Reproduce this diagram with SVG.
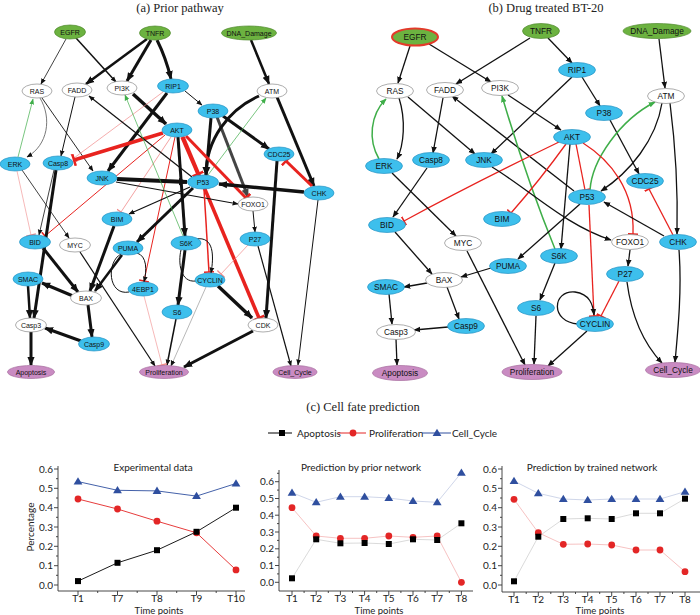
<svg xmlns="http://www.w3.org/2000/svg" width="700" height="615" viewBox="0 0 700 615">
<style>
.nb{fill:#3dbfec;stroke:#2794c4;stroke-width:0.7}
.ng{fill:#6cb240;stroke:#4f8a2c;stroke-width:0.7}
.np{fill:#c98bc2;stroke:#a66b9e;stroke-width:0.7}
.nw{fill:#fff;stroke:#8a8a8a;stroke-width:0.7}
.la{font-family:"Liberation Sans",Arial,sans-serif;font-size:7px;fill:#111;text-anchor:middle;dominant-baseline:central}
.lb{font-family:"Liberation Sans",Arial,sans-serif;font-size:8.3px;fill:#111;text-anchor:middle;dominant-baseline:central}
.ti{font-family:"Liberation Serif","Times New Roman",serif;font-size:12.5px;fill:#222;text-anchor:middle}
.k{stroke:#111;fill:none}
.r{stroke:#e8231f;fill:none}
.pk{stroke:#f08a8a;fill:none}
.g{stroke:#3fae49;fill:none}
.ct{font-family:Lato,"Liberation Sans",sans-serif;font-size:10px;fill:#222}
.tp{font-family:Lato,"Liberation Sans",sans-serif;font-size:9.5px;fill:#222}
.ax{stroke:#333;stroke-width:0.9;fill:none}
</style>
<defs>
<marker id="ah" viewBox="0 0 10 10" refX="9" refY="5" markerWidth="6" markerHeight="6" markerUnits="userSpaceOnUse" orient="auto"><path d="M0,1 L10,5 L0,9 z" fill="#111"/></marker>
<marker id="ahL" viewBox="0 0 10 10" refX="9" refY="5" markerWidth="9" markerHeight="9" markerUnits="userSpaceOnUse" orient="auto"><path d="M0,1 L10,5 L0,9 z" fill="#111"/></marker>
<marker id="ahD" viewBox="0 0 10 10" refX="9" refY="5" markerWidth="9" markerHeight="9" markerUnits="userSpaceOnUse" orient="auto"><path d="M0,1 L10,5 L0,9 z" fill="#444"/></marker>
<marker id="ahB" viewBox="0 0 10 10" refX="9" refY="5" markerWidth="7" markerHeight="7" markerUnits="userSpaceOnUse" orient="auto"><path d="M0,1 L10,5 L0,9 z" fill="#111"/></marker>
<marker id="ahG" viewBox="0 0 10 10" refX="9" refY="5" markerWidth="6" markerHeight="6" markerUnits="userSpaceOnUse" orient="auto"><path d="M0,1 L10,5 L0,9 z" fill="#3fae49"/></marker>
<marker id="ahGB" viewBox="0 0 10 10" refX="9" refY="5" markerWidth="7" markerHeight="7" markerUnits="userSpaceOnUse" orient="auto"><path d="M0,1 L10,5 L0,9 z" fill="#3fae49"/></marker>
<marker id="tee" viewBox="0 0 4 10" refX="2" refY="5" markerWidth="4" markerHeight="10" markerUnits="userSpaceOnUse" orient="auto"><path d="M2,0 V10" stroke="#e8231f" stroke-width="1.6"/></marker>
<marker id="teeP" viewBox="0 0 4 10" refX="2" refY="5" markerWidth="4" markerHeight="10" markerUnits="userSpaceOnUse" orient="auto"><path d="M2,0 V10" stroke="#f08a8a" stroke-width="1.4"/></marker>
<marker id="teeL" viewBox="0 0 4 12" refX="2" refY="6" markerWidth="4" markerHeight="12" markerUnits="userSpaceOnUse" orient="auto"><path d="M2,0 V12" stroke="#e8231f" stroke-width="2.5"/></marker>
<rect id="sq" x="-3" y="-3" width="6" height="6" fill="#000"/>
<circle id="ci" r="3.4" fill="#e32626"/>
<path id="tr" d="M0,-4.3 L4.4,3 L-4.4,3 z" fill="#2f4f9f"/>
</defs>

<text class="ti" x="180" y="12">(a) Prior pathway</text>
<text class="ti" x="546" y="12">(b) Drug treated BT-20</text>
<text class="ti" x="363" y="411">(c) Cell fate prediction</text>

<g id="edges-a">
<path class="k" stroke-width="0.8" d="M66,39 L41,84" marker-end="url(#ah)"/>
<path class="k" stroke-width="1.5" d="M76,38 L116,82" marker-end="url(#ah)"/>
<path class="k" stroke-width="2.5" d="M147,39 L86,84" marker-end="url(#ahL)"/>
<path class="k" stroke-width="3" d="M151,40 L127,81" marker-end="url(#ahL)"/>
<path class="k" stroke-width="3" d="M157,40 Q166,58 171,79" marker-end="url(#ahL)"/>
<path class="k" stroke-width="2.5" d="M251,40 L269,84" marker-end="url(#ahL)"/>
<path stroke="#555" fill="none" stroke-width="0.8" d="M40,98 C52,118 48,145 27,157" marker-end="url(#ah)"/>
<path class="g" stroke-width="0.7" d="M18,157 L33,99" marker-end="url(#ahG)"/>
<path class="k" stroke-width="0.9" d="M42,98 L93,171" marker-end="url(#ah)"/>
<path class="k" stroke-width="1" d="M75,97 L61,156" marker-end="url(#ah)"/>
<path class="k" stroke-width="3.5" d="M133,94 L166,124" marker-end="url(#ahL)"/>
<path class="k" stroke-width="3" d="M167,93 L108,171" marker-end="url(#ahL)"/>
<path class="k" stroke-width="1" d="M185,91 L202,105" marker-end="url(#ah)"/>
<path class="pk" stroke-width="0.7" d="M163,92 L74,158" marker-end="url(#teeP)"/>
<path class="k" stroke-width="3" d="M211,118 L206,175" marker-end="url(#ahL)"/>
<path stroke="#444" fill="none" stroke-width="3" d="M217,117 L248,197" marker-end="url(#ahD)"/>
<path class="k" stroke-width="3" d="M223,116 L269,149" marker-end="url(#ahL)"/>
<path class="k" stroke-width="3" d="M259,96 C228,110 206,140 206,175" marker-end="url(#ahL)"/>
<path class="k" stroke-width="3" d="M277,97 L314,186" marker-end="url(#ahL)"/>
<path class="g" stroke-width="0.7" d="M208,175 L266,98" marker-end="url(#ahG)"/>
<path class="r" stroke-width="3.5" d="M163,133 L74,160" marker-end="url(#teeL)"/>
<path class="k" stroke-width="3" d="M178,137 L185,236" marker-end="url(#ahL)"/>
<path class="r" stroke-width="3.5" d="M182,137 L198,174" marker-end="url(#teeL)"/>
<path class="r" stroke-width="3" d="M186,136 L246,198" marker-end="url(#teeL)"/>
<path class="r" stroke-width="3.5" d="M183,137 L259,318" marker-end="url(#teeL)"/>
<path class="r" stroke-width="1" d="M165,135 L45,236" marker-end="url(#tee)"/>
<path class="pk" stroke-width="0.8" d="M171,137 L121,212" marker-end="url(#teeP)"/>
<path class="r" stroke-width="1" d="M175,137 L144,281" marker-end="url(#tee)"/>
<path class="k" stroke-width="4" d="M117,179 L187,182" marker-end="url(#ahL)"/>
<path class="k" stroke-width="1.2" d="M116,182 L238,204" marker-end="url(#ah)"/>
<path class="k" stroke-width="1.2" d="M192,177 L89,96" marker-end="url(#ah)"/>
<path class="k" stroke-width="1.2" d="M190,187 L129,214" marker-end="url(#ah)"/>
<path class="k" stroke-width="3" d="M193,188 L137,242" marker-end="url(#ahL)"/>
<path class="r" stroke-width="1.5" d="M204,189 L209,272" marker-end="url(#tee)"/>
<path class="k" stroke-width="3.5" d="M304,192 L219,184" marker-end="url(#ahL)"/>
<path class="r" stroke-width="3" d="M312,186 L286,161" marker-end="url(#teeL)"/>
<path class="k" stroke-width="3" d="M277,161 L266,318" marker-end="url(#ahL)"/>
<path class="k" stroke-width="1" d="M253,211 L255,232" marker-end="url(#ah)"/>
<path class="pk" stroke-width="0.7" d="M248,245 L221,274" marker-end="url(#teeP)"/>
<path class="k" stroke-width="1.2" d="M258,246 L291,366" marker-end="url(#ah)"/>
<path class="k" stroke-width="1" d="M318,200 L298,365" marker-end="url(#ah)"/>
<path class="k" stroke-width="3.5" d="M218,286 L252,318" marker-end="url(#ahL)"/>
<path class="k" stroke-width="3" d="M253,331 L184,367" marker-end="url(#ahL)"/>
<path class="k" stroke-width="3" d="M185,250 L178,305" marker-end="url(#ahL)"/>
<path class="k" stroke-width="1" d="M196,239 C214,236 214,256 211,273" marker-end="url(#ah)"/>
<path class="k" stroke-width="1" d="M196,281 C180,283 178,262 181,250"/>
<path stroke="#888" fill="none" stroke-width="0.6" d="M206,287 L171,366" marker-end="url(#ah)"/>
<path class="k" stroke-width="1.5" d="M176,319 L167,365" marker-end="url(#ah)"/>
<path class="pk" stroke-width="0.6" d="M144,296 L162,365" marker-end="url(#teeP)"/>
<path class="k" stroke-width="1" d="M137,253 C147,256 147,270 144,282" marker-end="url(#ah)"/>
<path class="k" stroke-width="1" d="M129,292 C108,296 106,262 121,254"/>
<path class="k" stroke-width="3" d="M114,226 L90,291" marker-end="url(#ahL)"/>
<path class="k" stroke-width="2.5" d="M122,255 L95,291" marker-end="url(#ahL)"/>
<path class="k" stroke-width="3" d="M43,248 L78,292" marker-end="url(#ahL)"/>
<path class="k" stroke-width="3" d="M73,296 L42,283" marker-end="url(#ahL)"/>
<path class="k" stroke-width="3" d="M88,305 L92,337" marker-end="url(#ahL)"/>
<path class="k" stroke-width="2.5" d="M28,286 L30,318" marker-end="url(#ahL)"/>
<path class="k" stroke-width="3" d="M56,170 L34,318" marker-end="url(#ahL)"/>
<path class="k" stroke-width="0.8" d="M54,170 L39,235" marker-end="url(#ah)"/>
<path class="k" stroke-width="3" d="M81,341 L45,328" marker-end="url(#ahL)"/>
<path class="k" stroke-width="3" d="M31,332 L31,365" marker-end="url(#ahL)"/>
<path class="k" stroke-width="1.2" d="M80,252 L155,366" marker-end="url(#ah)"/>
<path class="k" stroke-width="0.8" d="M22,170 L69,238" marker-end="url(#ah)"/>
<path class="pk" stroke-width="0.6" d="M17,171 L31,235" marker-end="url(#teeP)"/>
<path class="g" stroke-width="0.7" d="M183,236 L125,95" marker-end="url(#ahG)"/>
</g>

<g id="a-EGFR"><ellipse class="ng" cx="70" cy="32" rx="15.5" ry="7"/><text class="la" x="70" y="32">EGFR</text></g>
<g id="a-TNFR"><ellipse class="ng" cx="155" cy="33" rx="15.5" ry="7"/><text class="la" x="155" y="33">TNFR</text></g>
<g id="a-DNA_Damage"><ellipse class="ng" cx="249" cy="33" rx="27.5" ry="7"/><text class="la" x="249" y="33">DNA_Damage</text></g>
<g id="a-RAS"><ellipse class="nw" cx="37" cy="91" rx="15" ry="7"/><text class="la" x="37" y="91">RAS</text></g>
<g id="a-FADD"><ellipse class="nw" cx="77" cy="90" rx="15" ry="7"/><text class="la" x="77" y="90">FADD</text></g>
<g id="a-PI3K"><ellipse class="nw" cx="122" cy="88" rx="15" ry="7"/><text class="la" x="122" y="88">PI3K</text></g>
<g id="a-RIP1"><ellipse class="nb" cx="173" cy="86" rx="15.5" ry="7"/><text class="la" x="173" y="86">RIP1</text></g>
<g id="a-ATM"><ellipse class="nw" cx="272" cy="91" rx="15" ry="7"/><text class="la" x="272" y="91">ATM</text></g>
<g id="a-P38"><ellipse class="nb" cx="213" cy="111" rx="15" ry="7"/><text class="la" x="213" y="111">P38</text></g>
<g id="a-AKT"><ellipse class="nb" cx="177" cy="130" rx="15" ry="7"/><text class="la" x="177" y="130">AKT</text></g>
<g id="a-CDC25"><ellipse class="nb" cx="279" cy="154" rx="15" ry="7"/><text class="la" x="279" y="154">CDC25</text></g>
<g id="a-ERK"><ellipse class="nb" cx="15" cy="164" rx="15" ry="7"/><text class="la" x="15" y="164">ERK</text></g>
<g id="a-Casp8"><ellipse class="nb" cx="58" cy="163" rx="15" ry="7"/><text class="la" x="58" y="163">Casp8</text></g>
<g id="a-JNK"><ellipse class="nb" cx="102" cy="178" rx="15" ry="7"/><text class="la" x="102" y="178">JNK</text></g>
<g id="a-P53"><ellipse class="nb" cx="203" cy="182" rx="15.5" ry="7"/><text class="la" x="203" y="182">P53</text></g>
<g id="a-CHK"><ellipse class="nb" cx="319" cy="193" rx="15" ry="7"/><text class="la" x="319" y="193">CHK</text></g>
<g id="a-FOXO1"><ellipse class="nw" cx="253" cy="204" rx="15" ry="7"/><text class="la" x="253" y="204">FOXO1</text></g>
<g id="a-BIM"><ellipse class="nb" cx="117" cy="219" rx="15" ry="7"/><text class="la" x="117" y="219">BIM</text></g>
<g id="a-BID"><ellipse class="nb" cx="35" cy="242" rx="15.5" ry="7"/><text class="la" x="35" y="242">BID</text></g>
<g id="a-MYC"><ellipse class="nw" cx="75" cy="245" rx="15.5" ry="7"/><text class="la" x="75" y="245">MYC</text></g>
<g id="a-PUMA"><ellipse class="nb" cx="128" cy="248" rx="15" ry="7"/><text class="la" x="128" y="248">PUMA</text></g>
<g id="a-S6K"><ellipse class="nb" cx="186" cy="243" rx="15" ry="7"/><text class="la" x="186" y="243">S6K</text></g>
<g id="a-P27"><ellipse class="nb" cx="255" cy="239" rx="15" ry="7"/><text class="la" x="255" y="239">P27</text></g>
<g id="a-SMAC"><ellipse class="nb" cx="28" cy="279" rx="15" ry="7"/><text class="la" x="28" y="279">SMAC</text></g>
<g id="a-4EBP1"><ellipse class="nb" cx="143" cy="289" rx="15" ry="7"/><text class="la" x="143" y="289">4EBP1</text></g>
<g id="a-CYCLIN"><ellipse class="nb" cx="210" cy="280" rx="15" ry="7"/><text class="la" x="210" y="280">CYCLIN</text></g>
<g id="a-BAX"><ellipse class="nw" cx="86" cy="298" rx="15.5" ry="7"/><text class="la" x="86" y="298">BAX</text></g>
<g id="a-S6"><ellipse class="nb" cx="177" cy="312" rx="15" ry="7"/><text class="la" x="177" y="312">S6</text></g>
<g id="a-Casp3"><ellipse class="nw" cx="31" cy="325" rx="15.5" ry="7"/><text class="la" x="31" y="325">Casp3</text></g>
<g id="a-CDK"><ellipse class="nw" cx="263" cy="325" rx="15" ry="7"/><text class="la" x="263" y="325">CDK</text></g>
<g id="a-Casp9"><ellipse class="nb" cx="94" cy="344" rx="15.5" ry="7"/><text class="la" x="94" y="344">Casp9</text></g>
<g id="a-Apoptosis"><ellipse class="np" cx="31" cy="372" rx="23.5" ry="6.5"/><text class="la" x="31" y="372">Apoptosis</text></g>
<g id="a-Proliferation"><ellipse class="np" cx="164" cy="372" rx="24.5" ry="6.5"/><text class="la" x="164" y="372">Proliferation</text></g>
<g id="a-Cell_Cycle"><ellipse class="np" cx="295" cy="372" rx="22" ry="6.5"/><text class="la" x="295" y="372">Cell_Cycle</text></g>

<g id="edges-b" stroke-width="1.3">
<path class="k" d="M410,46 L398,83" marker-end="url(#ahB)"/>
<path class="k" d="M429,44 L491,82" marker-end="url(#ahB)"/>
<path class="k" d="M530,38 L456,84" marker-end="url(#ahB)"/>
<path class="k" d="M548,38 L572,63" marker-end="url(#ahB)"/>
<path class="k" d="M659,39 L665,88" marker-end="url(#ahB)"/>
<path class="k" d="M399,98 C406,120 404,145 397,159" marker-end="url(#ahB)"/>
<path class="g" stroke-width="1.5" d="M379,159 C368,140 370,115 386,99" marker-end="url(#ahGB)"/>
<path class="k" d="M408,97 L475,154" marker-end="url(#ahB)"/>
<path class="k" d="M443,98 L433,153" marker-end="url(#ahB)"/>
<path class="k" d="M508,95 L561,130" marker-end="url(#ahB)"/>
<path class="k" d="M572,77 L491,154" marker-end="url(#ahB)"/>
<path class="k" d="M582,77 L600,106" marker-end="url(#ahB)"/>
<path class="k" d="M610,120 L639,174" marker-end="url(#ahB)"/>
<path class="k" d="M662,103 C656,140 630,172 601,191" marker-end="url(#ahB)"/>
<path class="k" d="M670,103 C676,150 678,190 677,234" marker-end="url(#ahB)"/>
<path class="g" stroke-width="1.5" d="M590,190 C592,160 620,120 655,102" marker-end="url(#ahGB)"/>
<path class="k" d="M574,191 L452,96" marker-end="url(#ahB)"/>
<path class="g" stroke-width="1.5" d="M555,249 C535,200 515,140 502,96" marker-end="url(#ahGB)"/>
<path class="r" d="M559,142 Q470,185 404,221" marker-end="url(#tee)"/>
<path class="r" d="M566,144 Q540,180 511,213" marker-end="url(#tee)"/>
<path class="r" d="M576,144 L585,190" marker-end="url(#tee)"/>
<path class="r" d="M583,143 C610,160 635,190 633,234" marker-end="url(#tee)"/>
<path class="k" d="M570,144 L561,249" marker-end="url(#ahB)"/>
<path class="k" d="M492,167 C530,190 565,225 611,240" marker-end="url(#ahB)"/>
<path class="k" d="M392,173 L456,236" marker-end="url(#ahB)"/>
<path class="k" d="M427,168 L393,217" marker-end="url(#ahB)"/>
<path class="k" d="M580,204 L518,259" marker-end="url(#ahB)"/>
<path class="r" d="M589,205 L594,316" marker-end="url(#tee)"/>
<path class="k" d="M664,236 L604,202" marker-end="url(#ahB)"/>
<path class="r" d="M673,235 L649,189" marker-end="url(#tee)"/>
<path class="k" d="M679,250 C682,290 678,330 675,362" marker-end="url(#ahB)"/>
<path class="k" d="M630,250 L628,266" marker-end="url(#ahB)"/>
<path class="r" d="M619,281 L601,316" marker-end="url(#tee)"/>
<path class="k" d="M627,282 C632,320 645,345 662,363" marker-end="url(#ahB)"/>
<path class="k" d="M578,324 C550,322 552,290 575,292 C590,294 593,305 594,315" marker-end="url(#ahB)"/>
<path class="k" d="M587,331 L548,366" marker-end="url(#ahB)"/>
<path class="k" d="M555,263 L540,300" marker-end="url(#ahB)"/>
<path class="k" d="M536,316 L534,364" marker-end="url(#ahB)"/>
<path class="k" d="M467,251 L525,365" marker-end="url(#ahB)"/>
<path class="k" d="M395,232 L432,274" marker-end="url(#ahB)"/>
<path class="k" d="M491,268 L461,277" marker-end="url(#ahB)"/>
<path class="k" d="M427,283 L404,287" marker-end="url(#ahB)"/>
<path class="k" d="M447,287 L459,319" marker-end="url(#ahB)"/>
<path class="k" d="M389,294 L392,324" marker-end="url(#ahB)"/>
<path class="k" d="M448,327 L414,330" marker-end="url(#ahB)"/>
<path class="k" d="M396,339 L397,365" marker-end="url(#ahB)"/>
</g>

<g id="b-EGFR"><ellipse class="ng" cx="415" cy="37" rx="23" ry="8.5" style="stroke:#e33a2a;stroke-width:2"/><text class="lb" x="415" y="37">EGFR</text></g>
<g id="b-TNFR"><ellipse class="ng" cx="541" cy="31" rx="18.5" ry="7.5"/><text class="lb" x="541" y="31">TNFR</text></g>
<g id="b-DNA_Damage"><ellipse class="ng" cx="657" cy="31" rx="34" ry="7.5"/><text class="lb" x="657" y="31">DNA_Damage</text></g>
<g id="b-RAS"><ellipse class="nw" cx="395" cy="91" rx="18.5" ry="7.5"/><text class="lb" x="395" y="91">RAS</text></g>
<g id="b-FADD"><ellipse class="nw" cx="445" cy="90" rx="18.5" ry="7.5"/><text class="lb" x="445" y="90">FADD</text></g>
<g id="b-PI3K"><ellipse class="nw" cx="500" cy="88" rx="18.5" ry="7.5"/><text class="lb" x="500" y="88">PI3K</text></g>
<g id="b-RIP1"><ellipse class="nb" cx="577" cy="70" rx="18.5" ry="7.5"/><text class="lb" x="577" y="70">RIP1</text></g>
<g id="b-ATM"><ellipse class="nw" cx="666" cy="96" rx="18.5" ry="7.5"/><text class="lb" x="666" y="96">ATM</text></g>
<g id="b-P38"><ellipse class="nb" cx="604" cy="113" rx="18.5" ry="7.5"/><text class="lb" x="604" y="113">P38</text></g>
<g id="b-AKT"><ellipse class="nb" cx="572" cy="137" rx="18.5" ry="7.5"/><text class="lb" x="572" y="137">AKT</text></g>
<g id="b-ERK"><ellipse class="nb" cx="384" cy="166" rx="18.5" ry="7.5"/><text class="lb" x="384" y="166">ERK</text></g>
<g id="b-Casp8"><ellipse class="nb" cx="431" cy="160" rx="18.5" ry="7.5"/><text class="lb" x="431" y="160">Casp8</text></g>
<g id="b-JNK"><ellipse class="nb" cx="484" cy="160" rx="18.5" ry="7.5"/><text class="lb" x="484" y="160">JNK</text></g>
<g id="b-CDC25"><ellipse class="nb" cx="645" cy="181" rx="18.5" ry="7.5"/><text class="lb" x="645" y="181">CDC25</text></g>
<g id="b-P53"><ellipse class="nb" cx="587" cy="197" rx="18.5" ry="7.5"/><text class="lb" x="587" y="197">P53</text></g>
<g id="b-BIM"><ellipse class="nb" cx="502" cy="219" rx="18.5" ry="7.5"/><text class="lb" x="502" y="219">BIM</text></g>
<g id="b-BID"><ellipse class="nb" cx="387" cy="225" rx="18.5" ry="7.5"/><text class="lb" x="387" y="225">BID</text></g>
<g id="b-MYC"><ellipse class="nw" cx="463" cy="243" rx="18.5" ry="7.5"/><text class="lb" x="463" y="243">MYC</text></g>
<g id="b-FOXO1"><ellipse class="nw" cx="630" cy="242" rx="18.5" ry="7.5"/><text class="lb" x="630" y="242">FOXO1</text></g>
<g id="b-CHK"><ellipse class="nb" cx="678" cy="242" rx="18.5" ry="7.5"/><text class="lb" x="678" y="242">CHK</text></g>
<g id="b-S6K"><ellipse class="nb" cx="559" cy="256" rx="18.5" ry="7.5"/><text class="lb" x="559" y="256">S6K</text></g>
<g id="b-PUMA"><ellipse class="nb" cx="508" cy="266" rx="18.5" ry="7.5"/><text class="lb" x="508" y="266">PUMA</text></g>
<g id="b-P27"><ellipse class="nb" cx="625" cy="274" rx="18.5" ry="7.5"/><text class="lb" x="625" y="274">P27</text></g>
<g id="b-BAX"><ellipse class="nw" cx="444" cy="280" rx="18.5" ry="7.5"/><text class="lb" x="444" y="280">BAX</text></g>
<g id="b-SMAC"><ellipse class="nb" cx="386" cy="287" rx="18.5" ry="7.5"/><text class="lb" x="386" y="287">SMAC</text></g>
<g id="b-S6"><ellipse class="nb" cx="536" cy="308" rx="18.5" ry="7.5"/><text class="lb" x="536" y="308">S6</text></g>
<g id="b-CYCLIN"><ellipse class="nb" cx="595" cy="324" rx="18.5" ry="7.5"/><text class="lb" x="595" y="324">CYCLIN</text></g>
<g id="b-Casp9"><ellipse class="nb" cx="466" cy="326" rx="18.5" ry="7.5"/><text class="lb" x="466" y="326">Casp9</text></g>
<g id="b-Casp3"><ellipse class="nw" cx="396" cy="332" rx="19.5" ry="7.5"/><text class="lb" x="396" y="332">Casp3</text></g>
<g id="b-Apoptosis"><ellipse class="np" cx="400" cy="373" rx="27.5" ry="7.5"/><text class="lb" x="400" y="373">Apoptosis</text></g>
<g id="b-Proliferation"><ellipse class="np" cx="532" cy="372" rx="30" ry="7.5"/><text class="lb" x="532" y="372">Proliferation</text></g>
<g id="b-Cell_Cycle"><ellipse class="np" cx="673" cy="370" rx="27.5" ry="7.5"/><text class="lb" x="673" y="370">Cell_Cycle</text></g>

<g id="legend">
<path d="M268,433 H292" stroke="#000" stroke-width="1"/><use href="#sq" x="282" y="433"/>
<text class="ct" x="297" y="436.5">Apoptosis</text>
<path d="M338,433 H366" stroke="#e32626" stroke-width="1"/><use href="#ci" x="353" y="433"/>
<text class="ct" x="369" y="436.5">Proliferation</text>
<path d="M422,433 H451" stroke="#2f4f9f" stroke-width="1"/><use href="#tr" x="437" y="433"/>
<text class="ct" x="452" y="436.5">Cell_Cycle</text>
</g>

<g id="chart1">
<path class="ax" d="M58,466 V591 H245"/>
<path class="ax" d="M54,585 H58 M54,565.7 H58 M54,546.3 H58 M54,527 H58 M54,507.7 H58 M54,488.3 H58 M54,469 H58 M56,575.3 H58 M56,556 H58 M56,536.7 H58 M56,517.3 H58 M56,498 H58 M56,478.7 H58"/>
<path class="ax" d="M78,591 V595 M117.5,591 V595 M157,591 V595 M196.5,591 V595 M236,591 V595 M97.7,591 V593 M137.2,591 V593 M176.7,591 V593 M216.2,591 V593"/>
<g class="ct" text-anchor="end">
<text x="53" y="588.5">0.0</text><text x="53" y="569.2">0.1</text><text x="53" y="549.8">0.2</text><text x="53" y="530.5">0.3</text><text x="53" y="511.2">0.4</text><text x="53" y="491.8">0.5</text><text x="53" y="472.5">0.6</text>
</g>
<g class="ct" text-anchor="middle">
<text x="78" y="602">T1</text><text x="117.5" y="602">T7</text><text x="157" y="602">T8</text><text x="196.5" y="602">T9</text><text x="236" y="602">T10</text>
<text x="153" y="471">Experimental data</text>
<text transform="translate(34,527) rotate(-90)">Percentage</text>
</g>
<text class="tp" text-anchor="middle" x="159" y="613.5">Time  points</text>
<polyline fill="none" stroke="#2f4f9f" stroke-width="0.9" points="78,481.6 117.5,490.3 157,490.9 196.5,496.1 236,483.5"/>
<polyline fill="none" stroke="#e32626" stroke-width="0.9" points="78,499 117.5,509 157,521.2 196.5,532.8 236,569.9"/>
<polyline fill="none" stroke="#000" stroke-width="0.9" points="78,581.1 117.5,562.8 157,550.2 196.5,531.8 236,507.7"/>
<use href="#tr" x="78" y="481.6"/><use href="#tr" x="117.5" y="490.3"/><use href="#tr" x="157" y="490.9"/><use href="#tr" x="196.5" y="496.1"/><use href="#tr" x="236" y="483.5"/>
<use href="#ci" x="78" y="499"/><use href="#ci" x="117.5" y="509"/><use href="#ci" x="157" y="521.2"/><use href="#ci" x="196.5" y="532.8"/><use href="#ci" x="236" y="569.9"/>
<use href="#sq" x="78" y="581.1"/><use href="#sq" x="117.5" y="562.8"/><use href="#sq" x="157" y="550.2"/><use href="#sq" x="196.5" y="531.8"/><use href="#sq" x="236" y="507.7"/>
</g>

<g id="chart2">
<path class="ax" d="M279,470 V591 H473"/>
<path class="ax" d="M275,582.3 H279 M275,565.5 H279 M275,548.8 H279 M275,532 H279 M275,515.2 H279 M275,498.5 H279 M275,481.7 H279 M277,573.9 H279 M277,557.2 H279 M277,540.4 H279 M277,523.6 H279 M277,506.9 H279 M277,490.1 H279 M277,473.3 H279"/>
<path class="ax" d="M292,591 V595 M316.2,591 V595 M340.4,591 V595 M364.6,591 V595 M388.8,591 V595 M413,591 V595 M437.2,591 V595 M461.4,591 V595 M304.1,591 V593 M328.3,591 V593 M352.5,591 V593 M376.7,591 V593 M400.9,591 V593 M425.1,591 V593 M449.3,591 V593"/>
<g class="ct" text-anchor="end">
<text x="274" y="585.8">0.0</text><text x="274" y="569">0.1</text><text x="274" y="552.3">0.2</text><text x="274" y="535.5">0.3</text><text x="274" y="518.7">0.4</text><text x="274" y="502">0.5</text><text x="274" y="485.2">0.6</text>
</g>
<g class="ct" text-anchor="middle">
<text x="292" y="602">T1</text><text x="316.2" y="602">T2</text><text x="340.4" y="602">T3</text><text x="364.6" y="602">T4</text><text x="388.8" y="602">T5</text><text x="413" y="602">T6</text><text x="437.2" y="602">T7</text><text x="461.4" y="602">T8</text>
<text x="361" y="471">Prediction by prior network</text>
</g>
<text class="tp" text-anchor="middle" x="379" y="613.5">Time  points</text>
<polyline fill="none" stroke="#c3cbe3" stroke-width="0.8" points="292,492.7 316.2,502.3 340.4,496.7 364.6,496.7 388.8,498 413,501 437.2,502.3 461.4,472.7"/>
<polyline fill="none" stroke="#f4b3b3" stroke-width="0.8" points="292,507.7 316.2,536 340.4,538.3 364.6,538.3 388.8,536 413,537.3 437.2,536 461.4,582.3"/>
<polyline fill="none" stroke="#d0d0d0" stroke-width="0.8" points="292,578.3 316.2,539.3 340.4,543.3 364.6,543 388.8,544 413,539.3 437.2,540 461.4,523.3"/>
<use href="#tr" x="292" y="492.7"/><use href="#tr" x="316.2" y="502.3"/><use href="#tr" x="340.4" y="496.7"/><use href="#tr" x="364.6" y="496.7"/><use href="#tr" x="388.8" y="498"/><use href="#tr" x="413" y="501"/><use href="#tr" x="437.2" y="502.3"/><use href="#tr" x="461.4" y="472.7"/>
<use href="#ci" x="292" y="507.7"/><use href="#ci" x="316.2" y="536"/><use href="#ci" x="340.4" y="538.3"/><use href="#ci" x="364.6" y="538.3"/><use href="#ci" x="388.8" y="536"/><use href="#ci" x="413" y="537.3"/><use href="#ci" x="437.2" y="536"/><use href="#ci" x="461.4" y="582.3"/>
<use href="#sq" x="292" y="578.3"/><use href="#sq" x="316.2" y="539.3"/><use href="#sq" x="340.4" y="543.3"/><use href="#sq" x="364.6" y="543"/><use href="#sq" x="388.8" y="544"/><use href="#sq" x="413" y="539.3"/><use href="#sq" x="437.2" y="540"/><use href="#sq" x="461.4" y="523.3"/>
</g>

<g id="chart3">
<path class="ax" d="M502,466 V592 H700"/>
<path class="ax" d="M498,585 H502 M498,565.7 H502 M498,546.3 H502 M498,527 H502 M498,507.7 H502 M498,488.3 H502 M498,469 H502 M500,575.3 H502 M500,556 H502 M500,536.7 H502 M500,517.3 H502 M500,498 H502 M500,478.7 H502"/>
<path class="ax" d="M514,592 V596 M538.3,592 V596 M563.3,592 V596 M587.7,592 V596 M611.7,592 V596 M636,592 V596 M660,592 V596 M685,592 V596 M526.2,592 V594 M550.8,592 V594 M575.5,592 V594 M599.7,592 V594 M623.9,592 V594 M648,592 V594 M672.5,592 V594"/>
<g class="ct" text-anchor="end">
<text x="497" y="588.5">0.0</text><text x="497" y="569.2">0.1</text><text x="497" y="549.8">0.2</text><text x="497" y="530.5">0.3</text><text x="497" y="511.2">0.4</text><text x="497" y="491.8">0.5</text><text x="497" y="472.5">0.6</text>
</g>
<g class="ct" text-anchor="middle">
<text x="514" y="602.5">T1</text><text x="538.3" y="602.5">T2</text><text x="563.3" y="602.5">T3</text><text x="587.7" y="602.5">T4</text><text x="611.7" y="602.5">T5</text><text x="636" y="602.5">T6</text><text x="660" y="602.5">T7</text><text x="685" y="602.5">T8</text>
<text x="592" y="471">Prediction by trained network</text>
</g>
<text class="tp" text-anchor="middle" x="600" y="614">Time  points</text>
<polyline fill="none" stroke="#c3cbe3" stroke-width="0.8" points="514,481 538.3,493.3 563.3,499 587.7,500 611.7,499 636,499 660,499 685,491.7"/>
<polyline fill="none" stroke="#f4b3b3" stroke-width="0.8" points="514,499.3 538.3,532.7 563.3,544.3 587.7,544 611.7,545 636,550 660,550 685,571.7"/>
<polyline fill="none" stroke="#d0d0d0" stroke-width="0.8" points="514,581.3 538.3,536.7 563.3,519 587.7,518.3 611.7,519 636,513.3 660,513.3 685,498.7"/>
<use href="#tr" x="514" y="481"/><use href="#tr" x="538.3" y="493.3"/><use href="#tr" x="563.3" y="499"/><use href="#tr" x="587.7" y="500"/><use href="#tr" x="611.7" y="499"/><use href="#tr" x="636" y="499"/><use href="#tr" x="660" y="499"/><use href="#tr" x="685" y="491.7"/>
<use href="#ci" x="514" y="499.3"/><use href="#ci" x="538.3" y="532.7"/><use href="#ci" x="563.3" y="544.3"/><use href="#ci" x="587.7" y="544"/><use href="#ci" x="611.7" y="545"/><use href="#ci" x="636" y="550"/><use href="#ci" x="660" y="550"/><use href="#ci" x="685" y="571.7"/>
<use href="#sq" x="514" y="581.3"/><use href="#sq" x="538.3" y="536.7"/><use href="#sq" x="563.3" y="519"/><use href="#sq" x="587.7" y="518.3"/><use href="#sq" x="611.7" y="519"/><use href="#sq" x="636" y="513.3"/><use href="#sq" x="660" y="513.3"/><use href="#sq" x="685" y="498.7"/>
</g>
</svg>
